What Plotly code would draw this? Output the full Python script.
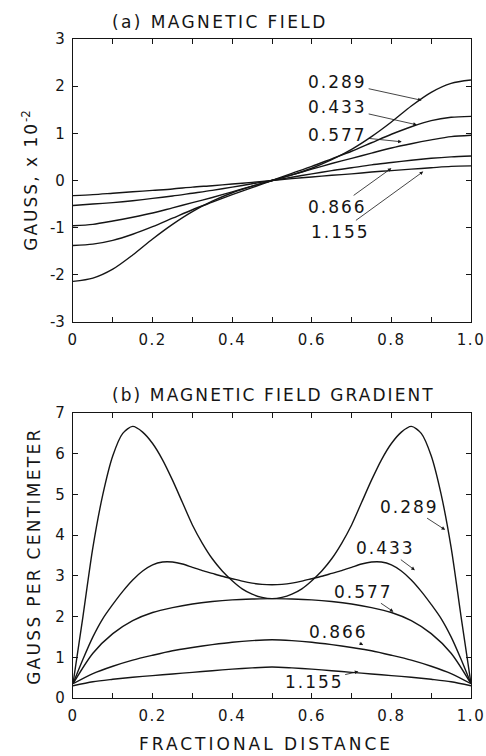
import plotly.graph_objects as go

# fractional distance grids
x_field = [0.0, 0.05, 0.1, 0.15, 0.2, 0.25, 0.3, 0.35, 0.4, 0.45, 0.5,
           0.55, 0.6, 0.65, 0.7, 0.75, 0.8, 0.85, 0.9, 0.95, 1.0]
x_fine = [0.0, 0.025, 0.05, 0.075, 0.1, 0.125, 0.15, 0.175, 0.2, 0.225, 0.25,
          0.275, 0.3, 0.325, 0.35, 0.375, 0.4, 0.425, 0.45, 0.475, 0.5,
          0.525, 0.55, 0.575, 0.6, 0.625, 0.65, 0.675, 0.7, 0.725, 0.75,
          0.775, 0.8, 0.825, 0.85, 0.875, 0.9, 0.925, 0.95, 0.975, 1.0]

# (a) magnetic field, gauss x 1e-2
field_289 = [-2.14, -2.07, -1.88, -1.58, -1.24, -0.93, -0.66, -0.44, -0.26, -0.12, 0.0,
             0.12, 0.26, 0.44, 0.66, 0.93, 1.24, 1.58, 1.87, 2.06, 2.13]
field_433 = [-1.38, -1.35, -1.27, -1.14, -0.98, -0.8, -0.62, -0.46, -0.3, -0.15, 0.0,
             0.15, 0.3, 0.46, 0.62, 0.8, 0.98, 1.14, 1.27, 1.34, 1.36]
field_577 = [-0.96, -0.93, -0.86, -0.78, -0.69, -0.58, -0.47, -0.36, -0.24, -0.12, 0.0,
             0.12, 0.24, 0.36, 0.47, 0.58, 0.69, 0.78, 0.86, 0.93, 0.96]
field_866 = [-0.53, -0.5, -0.47, -0.43, -0.38, -0.33, -0.27, -0.21, -0.14, -0.07, 0.0,
             0.07, 0.14, 0.21, 0.27, 0.33, 0.38, 0.43, 0.47, 0.5, 0.52]
field_1155 = [-0.32, -0.3, -0.27, -0.24, -0.21, -0.18, -0.14, -0.11, -0.075, -0.04, 0.0,
              0.04, 0.075, 0.11, 0.14, 0.18, 0.21, 0.24, 0.27, 0.3, 0.31]

# (b) field gradient, gauss per centimeter
grad_289 = [0.35, 2.0, 3.7, 5.0, 5.95, 6.5, 6.67, 6.53, 6.25, 5.85, 5.35,
            4.8, 4.25, 3.8, 3.42, 3.12, 2.88, 2.68, 2.55, 2.47, 2.44,
            2.47, 2.55, 2.68, 2.88, 3.12, 3.42, 3.8, 4.25, 4.8, 5.35,
            5.85, 6.25, 6.53, 6.67, 6.5, 5.95, 5.0, 3.7, 2.0, 0.35]
grad_433 = [0.35, 0.95, 1.5, 1.95, 2.3, 2.62, 2.9, 3.12, 3.27, 3.34, 3.34,
            3.29, 3.21, 3.13, 3.06, 2.99, 2.93, 2.87, 2.82, 2.79, 2.78,
            2.79, 2.82, 2.87, 2.93, 2.99, 3.06, 3.13, 3.21, 3.29, 3.34,
            3.34, 3.27, 3.12, 2.9, 2.62, 2.3, 1.95, 1.5, 0.95, 0.35]
grad_577 = [0.35, 1.1, 1.58, 1.9, 2.1, 2.22, 2.31, 2.37, 2.41, 2.43, 2.44,
            2.43, 2.41, 2.37, 2.31, 2.22, 2.1, 1.9, 1.58, 1.1, 0.35]
grad_866 = [0.35, 0.6, 0.78, 0.93, 1.05, 1.16, 1.24, 1.31, 1.37, 1.41, 1.43,
            1.41, 1.37, 1.31, 1.24, 1.16, 1.05, 0.93, 0.78, 0.6, 0.35]
grad_1155 = [0.3, 0.4, 0.46, 0.51, 0.55, 0.59, 0.63, 0.67, 0.71, 0.74, 0.76,
             0.74, 0.71, 0.67, 0.63, 0.59, 0.55, 0.51, 0.46, 0.4, 0.3]

curve_labels = ["0.289", "0.433", "0.577", "0.866", "1.155"]
x_tickvals = [0.0, 0.2, 0.4, 0.6, 0.8, 1.0]
x_ticktext = ["0", "0.2", "0.4", "0.6", "0.8", "1.0"]
ya_tickvals = [-3, -2, -1, 0, 1, 2, 3]
ya_ticktext = ["-3", "-2", "-1", "0", "1", "2", "3"]
yb_tickvals = [0, 1, 2, 3, 4, 5, 6, 7]
yb_ticktext = ["0", "1", "2", "3", "4", "5", "6", "7"]

INK = "#151515"
FONT = "DejaVu Sans"


def spaced(s, px):
    return f'<span style="letter-spacing:{px}px">{s}</span>'


fig = go.Figure()

line = dict(color=INK, width=1.4, shape="spline", smoothing=0.8)
for ys in [field_289, field_433, field_577, field_866, field_1155]:
    fig.add_trace(go.Scatter(x=x_field, y=ys, mode="lines", line=line, xaxis="x", yaxis="y",
                             hoverinfo="skip"))

for xs, ys in [(x_fine, grad_289), (x_fine, grad_433), (x_field, grad_577),
               (x_field, grad_866), (x_field, grad_1155)]:
    fig.add_trace(go.Scatter(x=xs, y=ys, mode="lines", line=line, xaxis="x2", yaxis="y2",
                             hoverinfo="skip"))

axis_common = dict(
    showline=True, linecolor=INK, linewidth=1.3, mirror="allticks",
    ticks="inside", ticklen=5, tickwidth=1.2, tickcolor=INK,
    showgrid=False, zeroline=False, ticklabelstandoff=4, automargin=False,
    tickfont=dict(family=FONT, size=15, color=INK),
)
x_minor = dict(dtick=0.1, ticks="inside", ticklen=5, tickwidth=1.2, tickcolor=INK, showgrid=False)

fig.update_layout(
    width=486, height=756,
    margin=dict(l=73, r=15, t=39, b=58),
    paper_bgcolor="white", plot_bgcolor="white",
    showlegend=False,
    font=dict(family=FONT, color=INK),
    xaxis=dict(domain=[0, 1], anchor="y", range=[0, 1], tickvals=x_tickvals,
               ticktext=[spaced(t, 1.5) for t in x_ticktext], minor=x_minor, **axis_common),
    yaxis=dict(domain=[0.5706, 1], anchor="x", range=[-3, 3], tickvals=ya_tickvals,
               ticktext=ya_ticktext, **axis_common),
    xaxis2=dict(domain=[0, 1], anchor="y2", range=[0, 1], tickvals=x_tickvals,
                ticktext=[spaced(t, 1.5) for t in x_ticktext], minor=x_minor, **axis_common),
    yaxis2=dict(domain=[0, 0.4325], anchor="x2", range=[0, 7], tickvals=yb_tickvals,
                ticktext=yb_ticktext, **axis_common),
)

text_font = dict(family=FONT, size=17, color=INK)
annotations = [
    dict(text=spaced("(a) MAGNETIC FIELD", 2.4), x=0.093, y=1.0258, xref="paper", yref="paper",
         xanchor="left", yanchor="middle", showarrow=False, font=text_font),
    dict(text=spaced("(b) MAGNETIC FIELD GRADIENT", 2.1), x=0.093, y=0.4598,
         xref="paper", yref="paper", xanchor="left", yanchor="middle",
         showarrow=False, font=text_font),
    dict(text=spaced("GAUSS, x 10", 2) + "<sup>-2</sup>", x=-0.108, y=0.785,
         xref="paper", yref="paper", xanchor="center", yanchor="middle",
         textangle=-90, showarrow=False, font=text_font),
    dict(text=spaced("GAUSS PER CENTIMETER", 2.3), x=-0.1, y=0.216, xref="paper", yref="paper",
         xanchor="center", yanchor="middle", textangle=-90, showarrow=False, font=text_font),
    dict(text=spaced("FRACTIONAL DISTANCE", 3), x=0.485, y=-0.07, xref="paper", yref="paper",
         xanchor="center", yanchor="middle", showarrow=False, font=text_font),
]

# label position (text) and arrow tip for each curve
top_text = [(0.665, 2.09), (0.665, 1.56), (0.665, 0.96), (0.665, -0.56), (0.671, -1.09)]
top_tip = [(0.876, 1.7), (0.864, 1.18), (0.826, 0.82), (0.80, 0.26), (0.88, 0.19)]
bot_text = [(0.845, 4.70), (0.785, 3.68), (0.731, 2.61), (0.666, 1.63), (0.606, 0.40)]
bot_tip = [(0.935, 4.13), (0.859, 3.14), (0.805, 2.12), (0.729, 1.30), (0.717, 0.65)]

for label, (tx, ty), (px, py) in zip(curve_labels, top_text, top_tip):
    annotations.append(dict(
        text=spaced(label, 2), x=px, y=py, ax=tx, ay=ty, xref="x", yref="y",
        axref="x", ayref="y", showarrow=True, arrowhead=2, arrowsize=0.9,
        arrowwidth=0.8, arrowcolor=INK, font=text_font,
    ))
for label, (tx, ty), (px, py) in zip(curve_labels, bot_text, bot_tip):
    annotations.append(dict(
        text=spaced(label, 2), x=px, y=py, ax=tx, ay=ty, xref="x2", yref="y2",
        axref="x2", ayref="y2", showarrow=True, arrowhead=2, arrowsize=0.9,
        arrowwidth=0.8, arrowcolor=INK, font=text_font,
    ))

fig.update_layout(annotations=annotations)

fig.write_html(
    "out.html",
    config={"displayModeBar": False, "responsive": False},
    post_script="document.body.style.margin='0';document.body.style.overflow='hidden';",
)
